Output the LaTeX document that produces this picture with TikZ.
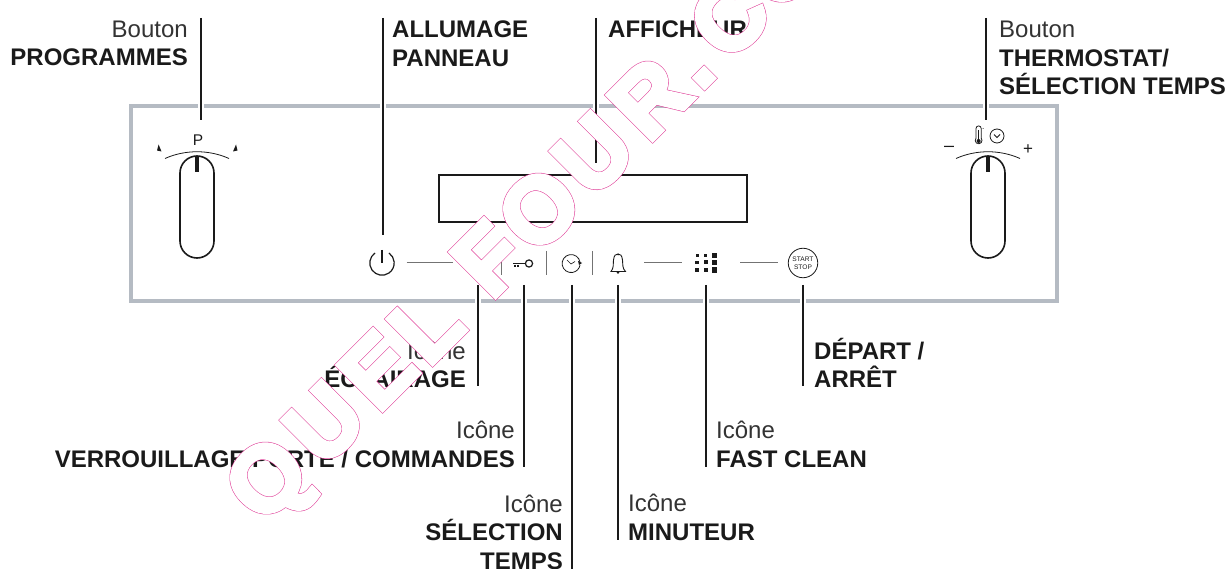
\documentclass[tikz,border=0pt]{standalone}
\usepackage{fontspec}
\setmainfont{Liberation Sans}
\definecolor{panelgrey}{HTML}{B5BBC3}
\definecolor{inkc}{HTML}{1A1A1A}
\definecolor{inkl}{HTML}{333333}
\newcommand{\wmletter}[1]{\textcolor{white}{\fontsize{92}{92}\selectfont\bfseries
  \rlap{\special{pdf:code q 2 Tr 5.7 w 0.88 0.25 0.6 RG}#1\special{pdf:code Q}}%
  \special{pdf:code q 2 Tr 4.6 w 1 1 1 RG}#1\special{pdf:code Q}}}
\tikzset{
  x=1pt,y=-1pt,
  lab/.style={inner sep=0pt,font=\fontsize{24}{28.7}\selectfont,text=inkc,anchor=base},
  leader/.style={draw=inkc,line width=2pt},
  halo/.style={draw=white,line width=6pt},
  icon/.style={draw=inkc,line width=1pt},
  dash line/.style={draw=black!55,line width=1pt},
  knob/.style={draw=inkc,line width=1.6pt},
  wmnode/.style={inner sep=0pt,anchor=base west},
}
\begin{document}
\begin{tikzpicture}
\useasboundingbox (0,0) rectangle (1227,569);
\clip (0,0) rectangle (1227,569);
% panel
\node[draw=panelgrey,line width=4pt,minimum width=926pt,minimum height=195pt,inner sep=0pt] (panel) at (594,203.5) {};
\node[draw=inkc,line width=2pt,minimum width=308pt,minimum height=47pt,inner sep=0pt] (display) at (593,198.5) {};
% knobs
\foreach \n/\cx in {kl/197,kr/988}{
  \draw[knob] (\cx-17,173) arc[start angle=180,end angle=360,radius=17] -- (\cx+17,241) arc[start angle=0,end angle=180,radius=17] -- cycle;
  \draw[inkc,line width=3.2pt] (\cx,156) -- (\cx,172);
  \draw[inkc,line width=.8pt] (\cx-32,158.5) .. controls (\cx-12,149.5) and (\cx+12,149.5) .. (\cx+32,158.5);
}
\node[inner sep=0pt,font=\fontsize{15.5}{15.5}\selectfont,text=inkc] (psym) at (198,140) {P};
\fill[inkc] (157,150.5) -- (158.6,144.5) -- (161.5,151.5) -- cycle;
\fill[inkc] (233,151.5) -- (236,144.5) -- (237.5,150.5) -- cycle;
\node[inner sep=0pt,font=\fontsize{18}{18}\selectfont,text=inkc] (minus) at (949,149) {–};
\node[inner sep=0pt,font=\fontsize{17}{17}\selectfont,text=inkc] (plus) at (1028,150) {+};
% thermometer
\draw[icon,line width=.8pt] (976,128.5) -- (976,138.2) arc[start angle=220,end angle=-40,radius=3.4] -- (981.2,128.5) arc[start angle=0,end angle=-180,radius=2.6];
\fill[inkc] (978.6,141) circle (2);\fill[inkc] (977.8,130) rectangle (979.4,141);
\fill[inkc] (983,128.5) circle (.5);
% clock 2
\draw[icon,line width=.8pt] (997,136) circle (7);
\draw[icon,line width=.8pt] (994,134.5) -- (997,137.5) -- (1000,134.5);
% power
\draw[icon,line width=1.2pt] (375,253) arc[start angle=235,end angle=-55,radius=12.2];
\draw[icon,line width=1.2pt] (382,250) -- (382,263);
% rules
\draw[dash line] (406.5,263) -- (453,263);
\draw[dash line] (644,263) -- (682,263);
\draw[dash line] (740,263) -- (778,263);
\foreach \x in {501,546.5,592.5} \draw[dash line] (\x,251) -- (\x,275);
% key
\draw[icon,line width=1.2pt] (529,263.5) circle (3.6);
\draw[icon,line width=1.8pt] (513,263.5) -- (525.5,263.5);
\draw[icon,line width=1.4pt] (515,265) -- (515,267.5) (518,265) -- (518,267);
% clock
\draw[icon,line width=.8pt] (580,262) arc[start angle=-10,end angle=-350,radius=9];
\draw[icon,line width=.6pt] (567,260) -- (571,264) -- (575,261.5);
\fill[inkc] (582,263) -- (578,261) -- (579,265) -- cycle;
% bell
\draw[icon,line width=.9pt] (611,271.5) .. controls (614,268) and (613,264) .. (613.5,260) .. controls (614,255) and (616,254) .. (618,254) .. controls (620,254) and (622,255) .. (622.5,260) .. controls (623,264) and (622,268) .. (625.5,271.5) -- cycle;
\fill[inkc] (618,272.5) circle (1.3);\fill[inkc] (618,254.5) circle (1);
% dots
\foreach \x/\y/\s in {697/255.7/1.5,705.7/255.7/1.7,714.3/255.7/2.2,
  697/262.5/1.7,705.7/262.5/2,714.3/262.5/2.4,
  697/270/2,705.7/270/2.2,714.3/270/2.7}
  \fill[inkc] (\x-\s,\y-\s) rectangle (\x+\s,\y+\s);
% start stop
\node[draw=inkc,circle,line width=.8pt,minimum size=29.5pt,inner sep=0pt,align=center,font=\fontsize{6.6}{8}\selectfont,text=inkc] (start) at (803,263) {START\\STOP};
% labels
\node[lab,align=right,anchor=base east] (t1) at (188,66) {\textcolor{inkl}{Bouton}\\\bfseries PROGRAMMES};
\node[lab,align=left,anchor=base west] (t2) at (392,66.5) {\bfseries ALLUMAGE\\\bfseries PANNEAU};
\node[lab,align=left,anchor=base west] (t3) at (608,37.5) {\bfseries AFFICHEUR};
\node[lab,align=left,anchor=base west] (t4) at (999,95) {\textcolor{inkl}{Bouton}\\\bfseries THERMOSTAT/\\\bfseries SÉLECTION TEMPS};
\node[lab,align=right,anchor=base east] (t5) at (466,388) {\textcolor{inkl}{Icône}\\\bfseries ÉCLAIRAGE};
\node[lab,align=right,anchor=base east] (t6) at (515,467) {\textcolor{inkl}{Icône}\\\bfseries VERROUILLAGE PORTE / COMMANDES};
\node[lab,align=right,anchor=base east] (t7) at (563,569.5) {\textcolor{inkl}{Icône}\\\bfseries SÉLECTION\\\bfseries TEMPS};
\node[lab,align=left,anchor=base west] (t8) at (628,540) {\textcolor{inkl}{Icône}\\\bfseries MINUTEUR};
\node[lab,align=left,anchor=base west] (t9) at (716,467) {\textcolor{inkl}{Icône}\\\bfseries FAST CLEAN};
\node[lab,align=left,anchor=base west] (t10) at (814,388) {\bfseries DÉPART /\\\bfseries ARRÊT};
% leaders
\foreach \n/\x/\a/\b/\p in {l1/200.5/18/120/106,l2/383/18/235/106,l3/595.5/18/163/106,l4/986/18/120/106,
  l5/478/285/386/301,l6/523.5/285/467/301,l7/572/285/569/301,l8/617.5/285/540/301,l9/706/285/467/301,l10/803/285/386/301}{
  \coordinate (\n a) at (\x,\a);
  \coordinate (\n b) at (\x,\b);
  \draw[halo] (\x,\p-3) -- (\x,\p+3);
  \draw[leader] (\n a) -- (\n b);
}
% watermark
\foreach \n/\x/\y/\c in {
 w1/263/526/Q, w2/323/469/U, w3/378.2/414.2/E, w4/428.2/368.2/L,
 w5/491.2/301.2/F, w6/536/257/O, w7/592/200/U, w8/648.2/144.2/R, w9/700/92/., w10/728/64/C, w11/778/14/O}{
  \node[wmnode,rotate=45] (\n) at (\x,\y) {\wmletter{\c}};
}
\end{tikzpicture}
\end{document}
